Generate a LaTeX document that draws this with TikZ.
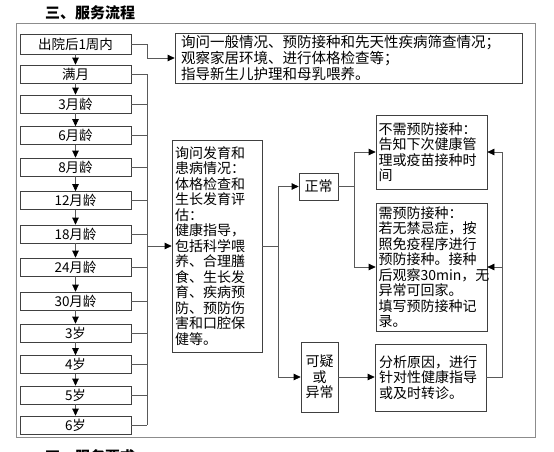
\documentclass[tikz,border=0pt]{standalone}
\usepackage{fontspec}
\setmainfont{Noto Sans CJK SC}
\usetikzlibrary{arrows.meta}
\definecolor{boxc}{gray}{0.25}
\definecolor{linec}{gray}{0.35}
\definecolor{framec}{gray}{0.55}
\tikzset{
  agebox/.style={draw=boxc, line width=0.7pt, minimum width=111pt, minimum height=18pt,
    inner sep=0pt, font=\fontsize{13.5pt}{15.5pt}\selectfont},
  txtbox/.style={draw=boxc, line width=0.7pt, inner xsep=3pt, inner ysep=0pt, align=left,
    font=\fontsize{14pt}{15.5pt}\selectfont},
  link/.style={draw=linec, line width=0.7pt},
  arr/.style={link, -{Triangle[length=7pt,width=6.5pt,color=black]}},
  heading/.style={font=\fontsize{15pt}{17pt}\selectfont\bfseries, anchor=west, inner sep=0pt}
}
\begin{document}
\begin{tikzpicture}[x=1pt,y=-1pt]
\useasboundingbox (0,0) rectangle (554,451);
\fill[white] (0,0) rectangle (554,451);
% outer frame
\draw[draw=framec, line width=0.9pt] (16,23) rectangle (535,437);
% headings
\node[heading] (title) at (45,13) {三、服务流程};
\node[heading] (next) at (45,457) {四、服务要求};
% age boxes
\node[agebox, minimum height=20pt] (a0) at (75.5,44) {出院后1周内};
\node[agebox] (a1) at (75.5,74) {满月};
\node[agebox] (a2) at (75.5,104) {3月龄};
\node[agebox] (a3) at (75.5,135.5) {6月龄};
\node[agebox] (a4) at (75.5,167) {8月龄};
\node[agebox] (a5) at (75.5,200.5) {12月龄};
\node[agebox] (a6) at (75.5,234) {18月龄};
\node[agebox] (a7) at (75.5,267) {24月龄};
\node[agebox] (a8) at (75.5,301) {30月龄};
\node[agebox] (a9) at (75.5,333) {3岁};
\node[agebox] (a10) at (75.5,364.5) {4岁};
\node[agebox] (a11) at (75.5,395) {5岁};
\node[agebox] (a12) at (75.5,425) {6岁};
\foreach \i [evaluate=\i as \j using int(\i+1)] in {0,...,11}
  \draw[arr] (a\i.south) -- (a\j.north);
% first info box
\node[txtbox, inner xsep=6pt, text width=335pt, minimum height=50pt,
  font=\fontsize{14.5pt}{16pt}\selectfont] (info) at (348.5,58)
  {询问一般情况、预防接种和先天性疾病筛查情况；\\观察家居环境、进行体格检查等；\\指导新生儿护理和母乳喂养。};
\draw[arr] (a0.east) -- (147,44) |- (info.west);
% middle box
\node[txtbox, text width=84pt, minimum height=212pt] (mid) at (217,246)
  {询问发育和\\患病情况：\\体格检查和\\生长发育评\\估：\\健康指导，\\包括科学喂\\养、合理膳\\食、生长发\\育、疾病预\\防、预防伤\\害和口腔保\\健等。};
\coordinate (bus) at (147,246);
\foreach \i in {1,...,12}
  \draw[link] (a\i.east) -- (a\i.east -| bus);
\draw[link] (a1.east -| bus) -- (a12.east -| bus);
\draw[arr] (bus) -- (mid.west);
% normal / abnormal
\node[txtbox, align=center, inner xsep=0pt, minimum width=39pt, minimum height=27pt] (norm) at (318.5,186.5) {正常};
\node[txtbox, align=center, inner xsep=0pt, minimum width=37pt, minimum height=70pt] (abn) at (319.5,377) {可疑\\或\\异常};
\coordinate (split) at (278,246);
\draw[link] (mid.east |- split) -- (split);
\draw[arr] (split) |- (norm.west);
\draw[arr] (split) |- (abn.west);
% right boxes
\node[txtbox, inner xsep=2.5pt, text width=106pt, minimum height=74pt] (novac) at (431.5,152)
  {不需预防接种：\\告知下次健康管\\理或疫苗接种时\\间};
\node[txtbox, inner xsep=2.5pt, text width=106pt, minimum height=128pt] (vac) at (431.5,267)
  {需预防接种：\\若无禁忌症，按\\照免疫程序进行\\预防接种。接种\\后观察30min，无\\异常可回家。\\填写预防接种记\\录。};
\node[txtbox, inner xsep=4pt, text width=103pt, minimum height=67pt] (ana) at (430.5,377.5)
  {分析原因，进行\\针对性健康指导\\或及时转诊。};
\coordinate (nsplit) at (354,186.5);
\draw[link] (norm.east) -- (nsplit);
\draw[arr] (nsplit) |- (novac.west);
\draw[arr] (nsplit) |- (vac.west);
\draw[arr] (abn.east) -- (abn.east -| ana.west);
\coordinate (back) at (502,267);
\draw[link] (ana.east) -| (back);
\draw[arr] (back) |- (novac.east);
\draw[arr] (back) -- (vac.east);
\end{tikzpicture}
\end{document}
